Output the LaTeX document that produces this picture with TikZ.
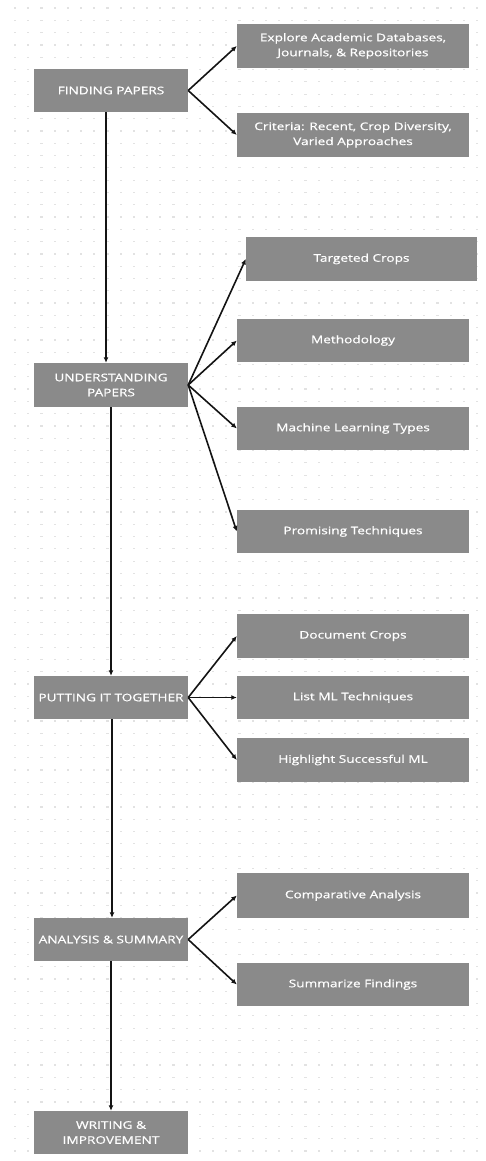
\documentclass[tikz,border=0pt]{standalone}
\usepackage{fontspec}
\usetikzlibrary{arrows.meta}
\newfontfamily\boxfont[FakeStretch=1.3,FakeBold=0.7]{Open Sans}
\definecolor{boxgray}{RGB}{138,138,138}
\definecolor{dotgray}{RGB}{226,226,226}
\definecolor{linec}{RGB}{20,20,20}
\begin{document}
\begin{tikzpicture}[x=1pt,y=-1pt,
  lbox/.style={rectangle, fill=boxgray, inner sep=0pt, minimum width=154pt, minimum height=43pt,
    text=white, align=center, font=\boxfont\fontsize{10.5}{15}\selectfont},
  rbox/.style={lbox, minimum width=232pt, minimum height=44pt},
  conn/.style={draw=linec, line width=1.6pt, -{Latex[length=5.5pt,width=5pt]}}]
\useasboundingbox (0,0) rectangle (485,1161);
\fill[white] (0,0) rectangle (485,1161);
% dotted grid
\foreach \i in {0,...,35}{
  \foreach \j in {0,...,93}{
    \fill[dotgray] ({14+13.2*\i},{7.5+12.29*\j}) rectangle ++(2.2,1.2);
  }
}
% left column
\node[lbox] (fp) at (111,90.5) {FINDING PAPERS};
\node[lbox, minimum height=44pt] (up) at (111,385) {UNDERSTANDING\\PAPERS};
\node[lbox] (pt) at (111,697.5) {PUTTING IT TOGETHER};
\node[lbox] (as) at (111,939.5) {ANALYSIS \& SUMMARY};
\node[lbox] (wi) at (111,1132.5) {WRITING \&\\IMPROVEMENT};
% right column
\node[rbox] (ex) at (353,46) {Explore Academic Databases,\\Journals, \& Repositories};
\node[rbox] (cr) at (353,135) {Criteria: Recent, Crop Diversity,\\Varied Approaches};
\node[rbox, minimum width=231pt] (tc) at (361.5,259) {Targeted Crops};
\node[rbox, minimum height=43pt] (me) at (353,340.5) {Methodology};
\node[rbox, minimum height=43pt] (ml) at (353,428.5) {Machine Learning Types};
\node[rbox, minimum height=43pt] (pr) at (353,531.5) {Promising Techniques};
\node[rbox] (dc) at (353,636) {Document Crops};
\node[rbox, minimum height=43pt] (li) at (353,697.5) {List ML Techniques};
\node[rbox] (hi) at (353,760) {Highlight Successful ML};
\node[rbox, minimum height=45pt] (ca) at (353,895.5) {Comparative Analysis};
\node[rbox, minimum height=43pt] (sf) at (353,984.5) {Summarize Findings};
% vertical flow
\draw[conn] ([xshift=-5pt]fp.south) -- ([xshift=-5pt]up.north);
\draw[conn] (up.south) -- (pt.north);
\draw[conn] ([xshift=1pt]pt.south) -- ([xshift=1pt]as.north);
\draw[conn] (as.south) -- (wi.north);
% branches
\draw[conn] (fp.east) -- (ex.west);
\draw[conn] (fp.east) -- (cr.west);
\draw[conn] (up.east) -- (tc.west);
\draw[conn] (up.east) -- (me.west);
\draw[conn] (up.east) -- (ml.west);
\draw[conn] (up.east) -- (pr.west);
\draw[conn] (pt.east) -- (dc.west);
\draw[conn] (pt.east) -- (li.west);
\draw[conn] (pt.east) -- (hi.west);
\draw[conn] (as.east) -- (ca.west);
\draw[conn] (as.east) -- (sf.west);
\end{tikzpicture}
\end{document}
